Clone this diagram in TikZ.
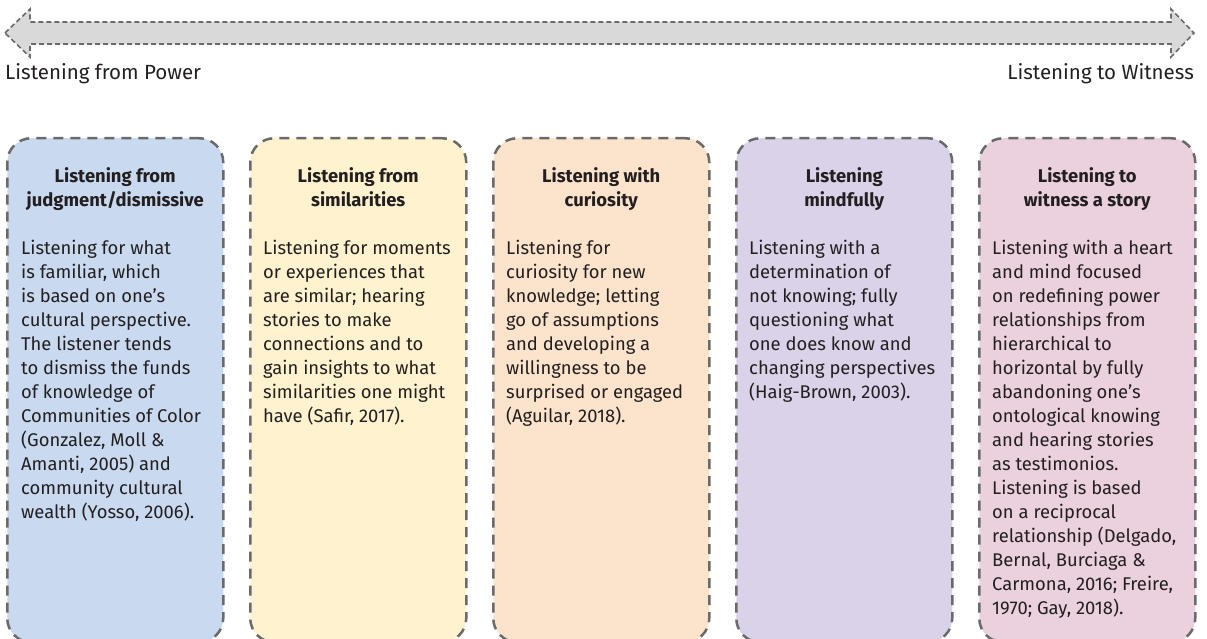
\documentclass[tikz,border=0pt]{standalone}
\usepackage{fontspec}
\setmainfont{Fira Sans}
\usetikzlibrary{calc}

\definecolor{ink}{HTML}{231F20}
\definecolor{edge}{HTML}{6A6A6A}
\definecolor{shaft}{HTML}{D9D9D9}
\definecolor{cblue}{HTML}{C9D9F0}
\definecolor{cyellow}{HTML}{FEF3CE}
\definecolor{cpeach}{HTML}{FCE4CC}
\definecolor{clav}{HTML}{D9D2E8}
\definecolor{cpink}{HTML}{EAD1DD}

% multi-line nodes sit on the baseline of their last line
\tikzset{
  panel/.style={draw=edge, line width=2.5pt, dash pattern=on 10pt off 7pt,
    rounded corners=24pt, minimum width=216pt, minimum height=504pt,
    inner sep=0pt, anchor=north west},
  heading/.style={font=\bfseries\fontsize{18.4}{24}\selectfont, text=ink,
    align=center, inner sep=0pt, anchor=base},
  bodytext/.style={font=\fontsize{18.4}{24}\selectfont, text=ink,
    align=left, inner sep=0pt, anchor=base west},
  endlabel/.style={font=\fontsize{20.5}{24}\selectfont, text=ink, inner sep=0pt},
}

\begin{document}
\begin{tikzpicture}[x=1pt,y=-1pt]
\useasboundingbox (0,0) rectangle (1207,639);
\clip (0,0) rectangle (1207,639);

% double-headed scale arrow
\coordinate (tipL) at (5,33);
\coordinate (tipR) at (1194,33);
\draw[fill=shaft, draw=edge, line width=1.6pt, dash pattern=on 5pt off 3pt, line join=miter]
  (tipL) -- (30,9) -- (30,22) -- (1171,22) -- (1171,9) -- (tipR)
  -- (1171,57) -- (1171,44) -- (30,44) -- (30,57) -- cycle;

\node[endlabel, anchor=base west] (lp) at (5,80) {Listening from Power};
\node[endlabel, anchor=base east] (lw) at (1194,80) {Listening to Witness};

% panels
\node[panel, fill=cblue]   (b1) at (6,137)   {};
\node[panel, fill=cyellow] (b2) at (249,137) {};
\node[panel, fill=cpeach]  (b3) at (492,137) {};
\node[panel, fill=clav]    (b4) at (735,137) {};
\node[panel, fill=cpink]   (b5) at (978,137) {};

% headings (two lines each)
\node[heading] (h1) at ([yshift=-70pt]b1.north) {Listening from\\judgment/dismissive};
\node[heading] (h2) at ([yshift=-70pt]b2.north) {Listening from\\similarities};
\node[heading] (h3) at ([yshift=-70pt]b3.north) {Listening with\\curiosity};
\node[heading] (h4) at ([yshift=-70pt]b4.north) {Listening\\mindfully};
\node[heading] (h5) at ([yshift=-70pt]b5.north) {Listening to\\witness a story};

% descriptions: first baseline 117pt below the panel top, 24pt per line
\node[bodytext] (d1) at ([xshift=15pt,yshift=-381pt]b1.north west)
  {Listening for what\\is familiar, which\\is based on one’s\\cultural perspective.\\The listener tends\\to dismiss the funds\\of knowledge of\\Communities of Color\\(Gonzalez, Moll \&\\Amanti, 2005) and\\community cultural\\wealth (Yosso, 2006).};
\node[bodytext] (d2) at ([xshift=14pt,yshift=-285pt]b2.north west)
  {Listening for moments\\or experiences that\\are similar; hearing\\stories to make\\connections and to\\gain insights to what\\similarities one might\\have (Safir, 2017).};
\node[bodytext] (d3) at ([xshift=14pt,yshift=-285pt]b3.north west)
  {Listening for\\curiosity for new\\knowledge; letting\\go of assumptions\\and developing a\\willingness to be\\surprised or engaged\\(Aguilar, 2018).};
\node[bodytext] (d4) at ([xshift=14pt,yshift=-261pt]b4.north west)
  {Listening with a\\determination of\\not knowing; fully\\questioning what\\one does know and\\changing perspectives\\(Haig-Brown, 2003).};
\node[bodytext] (d5) at ([xshift=14pt,yshift=-477pt]b5.north west)
  {Listening with a heart\\and mind focused\\on redefining power\\relationships from\\hierarchical to\\horizontal by fully\\abandoning one’s\\ontological knowing\\and hearing stories\\as testimonios.\\Listening is based\\on a reciprocal\\relationship (Delgado,\\Bernal, Burciaga \&\\Carmona, 2016; Freire,\\1970; Gay, 2018).};
\end{tikzpicture}
\end{document}
